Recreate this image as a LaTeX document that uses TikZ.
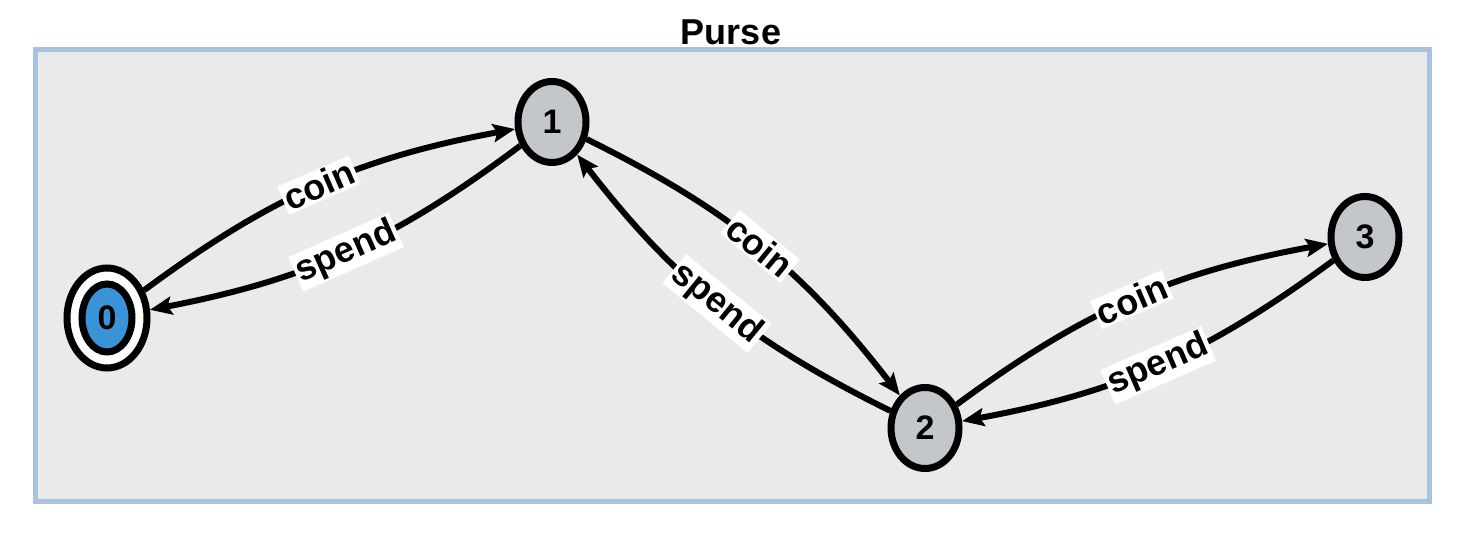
\documentclass[tikz,border=0pt]{standalone}
\usepackage{fontspec}
\setmainfont{Liberation Sans}
\usetikzlibrary{shapes.geometric,arrows.meta}
\definecolor{frameblue}{HTML}{A9C2E0}
\definecolor{framefill}{HTML}{E9EAEC}
\definecolor{stategray}{HTML}{C3C6CA}
\definecolor{startblue}{HTML}{3A93D6}

\begin{document}
\begin{tikzpicture}[x=0.5pt, y=0.5pt,
		state/.style={ellipse, draw, line width=3.5pt, fill=stategray, inner sep=0pt,
			minimum width=34pt, minimum height=40.5pt, font=\fontsize{17}{19}\selectfont\bfseries},
		trans/.style={-{Stealth[length=11pt, width=9pt, inset=2pt]}, line width=3pt, bend left=13},
		lbl/.style={sloped, fill=white, inner sep=1pt, font=\fontsize{18}{20}\selectfont\bfseries}]
			\useasboundingbox (0,0) rectangle (1462,540);
			\draw [draw=frameblue, fill=framefill, line width=2.5pt] (35,38) rectangle (1429,490);
			\node (title) at (731,508) {\fontsize{18}{20}\selectfont\bfseries Purse};
			\node (s0) [state, fill=white, minimum width=40pt, minimum height=50pt] at (107,222) {};
			\node (s0in) [state, fill=startblue, minimum width=25pt, minimum height=34pt] at (s0.center) {0};
			\node (s1) [state] at (552,418) {1};
			\node (s2) [state] at (925,112) {2};
			\node (s3) [state] at (1365,303) {3};
			\draw [trans] (s0) to node [lbl] {coin} (s1);
			\draw [trans] (s1) to node [lbl] {spend} (s0);
			\draw [trans] (s1) to node [lbl] {coin} (s2);
			\draw [trans] (s2) to node [lbl] {spend} (s1);
			\draw [trans] (s2) to node [lbl] {coin} (s3);
			\draw [trans] (s3) to node [lbl] {spend} (s2);
		\end{tikzpicture}
\end{document}
